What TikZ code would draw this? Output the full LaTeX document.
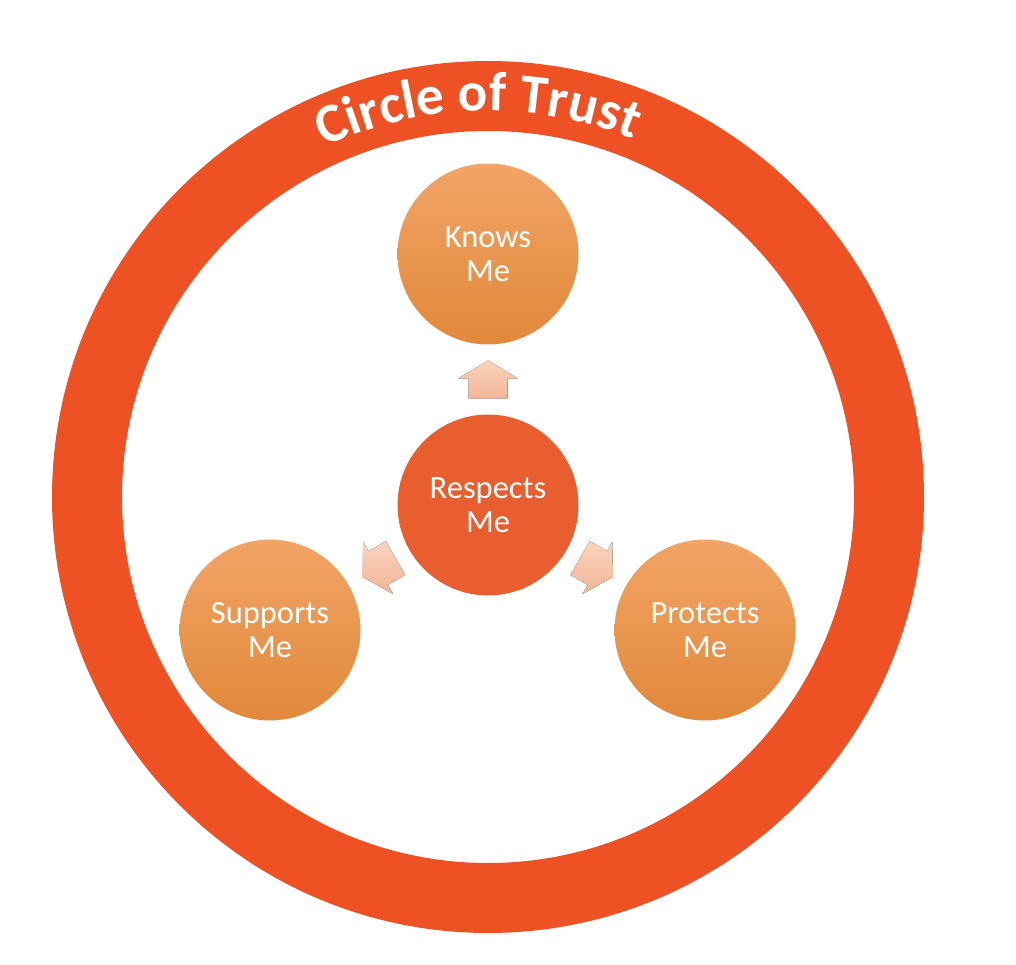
\documentclass[tikz,border=0pt]{standalone}
\usepackage{fontspec}
\setmainfont{Carlito}
\usetikzlibrary{calc,decorations.text}
\definecolor{trustred}{HTML}{EE5124}
\definecolor{respectred}{HTML}{E85E2F}
\definecolor{orangetop}{HTML}{F2A466}
\definecolor{orangemid}{HTML}{F29341}
\definecolor{orangebot}{HTML}{E1883A}
\definecolor{arrowtop}{HTML}{FBD3BE}
\definecolor{arrowbot}{HTML}{F1B597}
\newcommand\trusttitle{\color{white}\bfseries\fontsize{31.5}{38}\selectfont}
\tikzset{
  bubble/.style={circle, minimum size=3.62cm, inner sep=0pt, text=white, align=center,
    font=\fontsize{18.5}{19.7}\selectfont},
  outerbubble/.style={bubble, top color=orangetop, middle color=orangemid, bottom color=orangebot},
  centerbubble/.style={bubble, fill=respectred},
  blockarrow/.style={top color=arrowtop, bottom color=arrowbot, draw=none}
}
\begin{document}
\begin{tikzpicture}[x=0.02cm, y=0.02cm]
	\useasboundingbox (0,0) rectangle (1016,964);
	\def\ringmid{401};
	\def\ringwidth{1.4cm};
	\def\titleradius{386};
	\coordinate (ring) at (488,467);
	\draw[trustred, line width=\ringwidth] (ring) circle[radius=\ringmid];
	\path[decorate, decoration={text along path, text align=center, text={|\trusttitle|Circle of Trust}}]
		($(ring)+(181.5:\titleradius)$) arc[start angle=181.5, end angle=1.5, radius=\titleradius];
	\node[centerbubble] (respects) at (488,459) {Respects\\Me};
	\node[outerbubble] (knows) at (488,710) {Knows\\Me};
	\node[outerbubble] (supports) at (270,334) {Supports\\Me};
	\node[outerbubble] (protects) at (705,334) {Protects\\Me};
	\foreach \target/\ang in {knows/90, supports/209.8, protects/-29.8}{
		\coordinate (mid\target) at ($(respects)!0.5!(\target)$);
		\fill[blockarrow, shift={(mid\target)}, rotate=\ang]
			(-19,-19.5) -- (1,-19.5) -- (1,-30) -- (19,0) -- (1,30) -- (1,19.5) -- (-19,19.5) -- cycle;
	}
\end{tikzpicture}
\end{document}
